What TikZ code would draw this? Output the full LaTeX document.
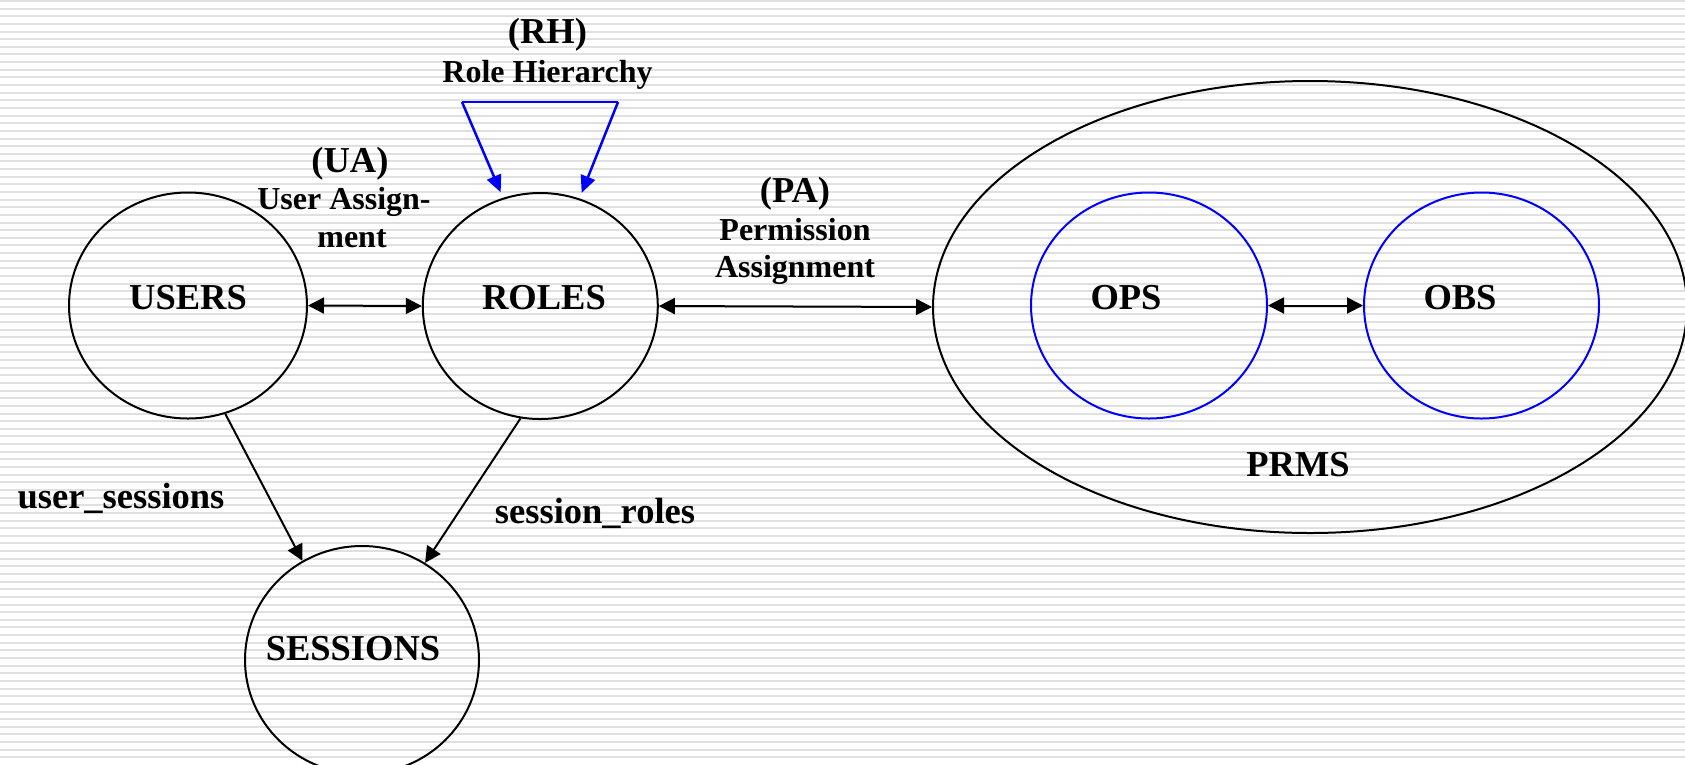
\documentclass[tikz,border=0pt]{standalone}
\usepackage{fontspec}
\setmainfont{Liberation Serif}
\usetikzlibrary{arrows.meta,shapes.geometric}

\begin{document}
\begin{tikzpicture}[x=1pt,y=-1pt,
  set/.style={draw=black, line width=2pt, ellipse, inner sep=0pt},
  subset/.style={draw=blue, line width=2pt, ellipse, inner sep=0pt},
  big/.style={font=\fontsize{36.5}{42}\selectfont\bfseries, inner sep=0pt, anchor=base},
  small/.style={font=\fontsize{32}{37}\selectfont\bfseries, inner sep=0pt, anchor=base},
  tip/.tip={Triangle[length=16pt,width=16pt]},
  link/.style={line width=2pt, -tip},
  twoway/.style={line width=2pt, tip-tip},
  hier/.style={draw=blue, line width=2.5pt},
  hierlink/.style={draw=blue, line width=2.5pt, -{Triangle[length=17pt,width=15pt]}, shorten >=6pt}
]
\useasboundingbox (0,0) rectangle (1685,764);

% striped backdrop
\fill[white] (0,0) rectangle (1685,764);
\foreach \k in {0,...,99}
  \fill[black!12] (0,{\k*7.64}) rectangle (1685,{\k*7.64+2});

% element sets
\node[set, minimum width=238pt, minimum height=226pt] (users) at (188,305.5) {};
\node[set, minimum width=235pt, minimum height=226pt] (roles) at (540.3,306) {};
\node[set, minimum width=234pt, minimum height=228pt] (sessions) at (362,660) {};
\node[set, minimum width=754pt, minimum height=452pt] (prms) at (1310,307) {};
\node[subset, minimum width=236pt, minimum height=226pt] (ops) at (1149,305.5) {};
\node[subset, minimum width=235pt, minimum height=226pt] (obs) at (1481.5,305.5) {};

% set names
\node[big] (usersname) at (188,309) {USERS};
\node[big] (rolesname) at (544,309) {ROLES};
\node[big] (sessionsname) at (353,660.7) {SESSIONS};
\node[big] (opsname) at (1126,309) {OPS};
\node[big] (obsname) at (1460,309) {OBS};
\node[big] (prmsname) at (1298,476) {PRMS};

% relations
\draw[twoway] (users.east) -- (roles.west);
\draw[twoway] (roles.east) -- (prms.west);
\draw[twoway] (ops.east) -- (obs.west);
\draw[link] (users.-71) -- (sessions.121.7);
\draw[link] (roles.-100) -- (sessions.57.7);

% role hierarchy
\coordinate (rhL) at (462,102);
\coordinate (rhR) at (618,102);
\draw[hier] (rhL) -- (rhR);
\draw[hierlink] (rhL) -- (roles.109.4);
\draw[hierlink] (rhR) -- (roles.70.8);

% relation labels
\node[big] (rh1) at (547.5,43) {(RH)};
\node[small] (rh2) at (547.5,82) {Role Hierarchy};
\node[big] (ua1) at (350,172.7) {(UA)};
\node[small] (ua2) at (344,209) {User Assign-};
\node[small] (ua3) at (352,247) {ment};
\node[big] (pa1) at (795,202.7) {(PA)};
\node[small] (pa2) at (795,240) {Permission};
\node[small] (pa3) at (795,277) {Assignment};
\node[big] (us) at (121,508) {user\_sessions};
\node[big] (sr) at (595,523) {session\_roles};
\end{tikzpicture}
\end{document}
